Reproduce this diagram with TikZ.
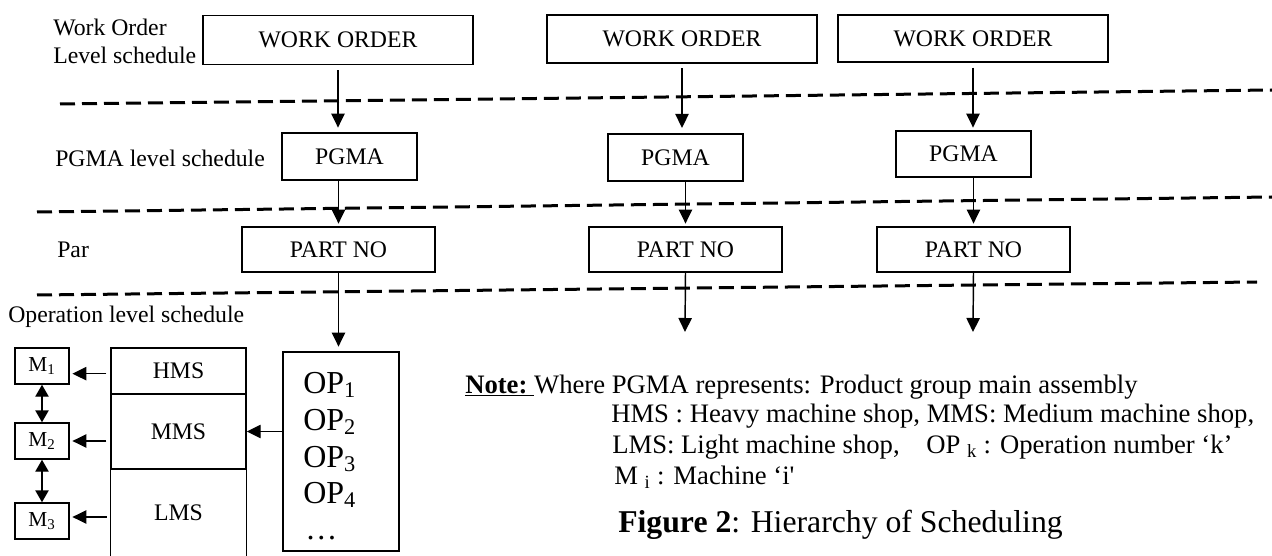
\documentclass[tikz,border=0pt]{standalone}
\usepackage{fontspec}
\setmainfont{Liberation Serif}
\newfontfamily\plainquote[Ligatures=TeXOff]{Liberation Serif}
\usetikzlibrary{arrows.meta}
\begin{document}
\begin{tikzpicture}[x=0.75pt,y=-0.75pt,
  box/.style={draw, line width=1.1pt, inner sep=0pt, font=\fontsize{17.8}{20}\selectfont},
  mbox/.style={draw, line width=1.1pt, inner sep=0pt, minimum width=40.5pt, minimum height=27pt, font=\fontsize{16}{18}\selectfont},
  lbl/.style={inner sep=0pt, font=\fontsize{17.8}{21}\selectfont, align=left},
  arr/.style={line width=1.1pt, -{Triangle[length=10.5pt,width=10pt]}},
  darr/.style={line width=1.1pt, {Triangle[length=9pt,width=10pt]}-{Triangle[length=9pt,width=10pt]}},
  sep/.style={line width=2.25pt, dash pattern=on 11.25pt off 5.25pt},
  notetxt/.style={inner sep=0pt, anchor=base west, font=\fontsize{20}{23}\selectfont},
  optxt/.style={inner sep=0pt, anchor=base west, font=\fontsize{24}{28}\selectfont}]
\useasboundingbox (0,0) rectangle (1272,556);

% separators
\draw[sep] (60,104) -- (1272,90);
\draw[sep] (37,212) -- (1272,197);
\draw[sep] (37,295) -- (1257,282);

% level labels
\node[lbl, anchor=west] (lwo) at (53,41) {Work Order\\Level schedule};
\node[lbl, anchor=west] (lpg) at (55,158) {PGMA level schedule};
\node[lbl, anchor=west] (lpa) at (57,250) {Par};
\node[lbl, anchor=west] (lop) at (8,317) {Operation level schedule};

% work orders
\node[box, minimum width=202.5pt, minimum height=37pt] (wo1) at (338,40) {WORK ORDER};
\node[box, minimum width=202.5pt, minimum height=36pt] (wo2) at (682,39) {WORK ORDER};
\node[box, minimum width=202.5pt, minimum height=35.5pt] (wo3) at (973,38.5) {WORK ORDER};

% PGMA
\node[box, minimum width=101.25pt, minimum height=35.25pt] (pg1) at (349.5,156.5) {PGMA};
\node[box, minimum width=101.25pt, minimum height=35.25pt] (pg2) at (675.5,157.5) {PGMA};
\node[box, minimum width=101.25pt, minimum height=34.5pt] (pg3) at (963.5,154) {PGMA};

% PART NO
\node[box, minimum width=144.75pt, minimum height=33.75pt] (pa1) at (338.5,249.5) {PART NO};
\node[box, minimum width=144.75pt, minimum height=33.75pt] (pa2) at (685.5,249.5) {PART NO};
\node[box, minimum width=144.75pt, minimum height=33.75pt] (pa3) at (973.5,249.5) {PART NO};

% operations box
\node[box, minimum width=87pt, minimum height=149.25pt] (op) at (341,451.5) {};
\node[optxt] (op1) at (303,393) {OP\textsubscript{1}};
\node[optxt] (op2) at (303,430) {OP\textsubscript{2}};
\node[optxt] (op3) at (303,467) {OP\textsubscript{3}};
\node[optxt] (op4) at (303,503) {OP\textsubscript{4}};
\node[optxt] (op5) at (305,539) {…};

% shops
\node[box, minimum width=101.25pt, minimum height=34.5pt] (hms) at (178.5,371) {HMS};
\node[box, minimum width=101.25pt, minimum height=56.25pt] (mms) at (178.5,431.5) {MMS};
\node[inner sep=0pt, minimum width=101.25pt, minimum height=65.25pt, font=\fontsize{17.8}{20}\selectfont] (lms) at (178.5,512.5) {LMS};
\draw[line width=1.1pt] (lms.north west) -- ([yshift=-8pt]lms.south west);
\draw[line width=1.1pt] (lms.north east) -- ([yshift=-8pt]lms.south east);

% machines
\node[mbox] (m1) at (42,366) {M\textsubscript{1}};
\node[mbox] (m2) at (42,441) {M\textsubscript{2}};
\node[mbox] (m3) at (42,521) {M\textsubscript{3}};

% free ends
\coordinate (e2) at (685,332);
\coordinate (e3) at (973,332);

% connectors
\draw[arr, shorten <=3.5pt, shorten >=3.5pt] (wo1.south) -- (wo1.south |- pg1.north);
\draw[arr, shorten <=3.5pt, shorten >=4pt] (wo2.south) -- (wo2.south |- pg2.north);
\draw[arr, shorten <=3.5pt, shorten >=2pt] (wo3.south) -- (wo3.south |- pg3.north);
\draw[arr, shorten >=2pt] (pa1.north |- pg1.south) -- (pa1.north);
\draw[arr, shorten >=2pt] (pa2.north |- pg2.south) -- (pa2.north);
\draw[arr, shorten >=2pt] (pa3.north |- pg3.south) -- (pa3.north);
\draw[arr, shorten >=3.5pt] (pa1.south) -- (pa1.south |- op.north);
\draw[arr] (pa2.south) -- (e2);
\draw[arr] (pa3.south) -- (e3);
\draw[arr] (op.west |- mms.east) -- (mms.east);
\draw[arr, shorten <=3pt, shorten >=2pt] ([yshift=-2pt]hms.west) -- ([yshift=-2pt]hms.west -| m1.east);
\draw[arr, shorten <=3pt, shorten >=2pt] (m2.east -| mms.west) -- (m2.east);
\draw[arr, shorten <=3pt, shorten >=2pt] ([yshift=3pt]m3.east -| lms.west) -- ([yshift=3pt]m3.east);
\draw[darr] (m1.south) -- (m2.north);
\draw[darr] (m2.south) -- (m3.north);

% note
\node[notetxt] (n1) at (465,393) {\underline{\textbf{Note:}\ }Where PGMA represents: Product group main assembly};
\node[notetxt] (n2) at (611,422) {HMS : Heavy machine shop, MMS: Medium machine shop,};
\node[notetxt] (n3) at (612,453) {LMS: Light machine shop,\hspace{20pt}OP \textsubscript{k} : Operation number ‘k’};
\node[notetxt] (n4) at (614,484) {M \textsubscript{i} : Machine ‘i{\plainquote '}};
\node[inner sep=0pt, anchor=base west, font=\fontsize{23.8}{27}\selectfont] (cap) at (618,532) {\textbf{Figure 2}: Hierarchy of Scheduling};
\end{tikzpicture}
\end{document}
